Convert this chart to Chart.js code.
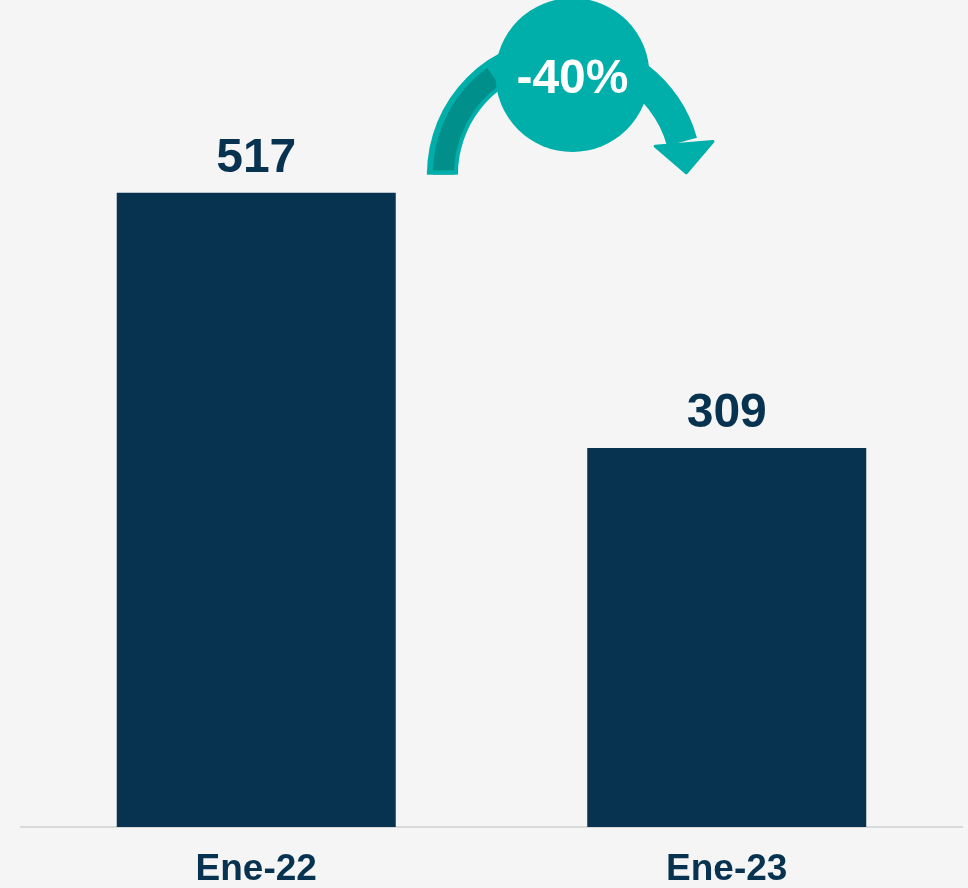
<!DOCTYPE html>
<html>
<head>
    <title>Ene-22 vs Ene-23</title>
    <script src="https://cdn.jsdelivr.net/npm/chart.js"></script>
    <style>
        body { margin: 0; background: #f5f5f5; }
        canvas { display: block; }
    </style>
</head>
<body>
    <canvas id="chart" width="968" height="888"></canvas>
    <script>
        // data
        const categories = ['Ene-22', 'Ene-23'];
        const values = [517, 309];

        const navy = '#083350';
        const teal = '#00afaa';
        const tealDark = '#008f8b';
        const font = "'Liberation Sans', Arial, sans-serif";

        const change = Math.round((values[1] - values[0]) / values[0] * 100);

        // value labels on top of the bars
        const valueLabels = {
            id: 'valueLabels',
            afterDatasetsDraw(chart) {
                const ctx = chart.ctx;
                const meta = chart.getDatasetMeta(0);
                ctx.save();
                ctx.fillStyle = navy;
                ctx.font = 'bold 48px ' + font;
                ctx.textAlign = 'center';
                ctx.textBaseline = 'alphabetic';
                meta.data.forEach((bar, i) => {
                    ctx.fillText(values[i], bar.x, bar.y - 21);
                });
                ctx.restore();
            }
        };

        // curved arrow with the % change
        const changeArrow = {
            id: 'changeArrow',
            afterDatasetsDraw(chart) {
                const ctx = chart.ctx;
                const meta = chart.getDatasetMeta(0);
                const y = chart.scales.y;
                const x0 = meta.data[0].x, x1 = meta.data[1].x;
                const d = x1 - x0;
                const cx = x0 + d * 0.655;
                const cy = y.getPixelForValue(532);
                const rMid = 122, half = 15.5;
                const endA = -0.27;

                ctx.save();
                // shaft
                ctx.beginPath();
                ctx.arc(cx, cy, rMid + half, Math.PI, 2 * Math.PI + endA);
                ctx.arc(cx, cy, rMid - half, 2 * Math.PI + endA, Math.PI, true);
                ctx.closePath();
                ctx.fillStyle = teal;
                ctx.fill();

                // darker inside on the left arm
                ctx.beginPath();
                ctx.arc(cx, cy, rMid + half - 6, Math.PI, Math.PI * 1.3);
                ctx.arc(cx, cy, rMid - half + 4, Math.PI * 1.3, Math.PI, true);
                ctx.closePath();
                ctx.fillStyle = tealDark;
                ctx.fill();
                ctx.fillStyle = teal;
                ctx.fillRect(cx - rMid - half, cy - 4, half * 2, 4);

                // head
                const hA = -0.08;
                const bx = cx + rMid * Math.cos(endA) + 2, by = cy + rMid * Math.sin(endA) + 2;
                const ux = Math.cos(hA), uy = Math.sin(hA);
                const tx = -Math.sin(hA), ty = Math.cos(hA);
                ctx.beginPath();
                ctx.moveTo(bx - ux * 29, by - uy * 29);
                ctx.lineTo(bx + ux * 29, by + uy * 29);
                ctx.lineTo(bx + tx * 29, by + ty * 29);
                ctx.closePath();
                ctx.lineJoin = 'round';
                ctx.strokeStyle = teal;
                ctx.lineWidth = 3;
                ctx.fill();
                ctx.stroke();

                // circle
                const ccx = x0 + d * 0.672;
                const ccy = y.getPixelForValue(613);
                ctx.beginPath();
                ctx.arc(ccx, ccy, 77, 0, Math.PI * 2);
                ctx.fillStyle = teal;
                ctx.fill();

                ctx.fillStyle = '#ffffff';
                ctx.font = 'bold 48px ' + font;
                ctx.textAlign = 'center';
                ctx.textBaseline = 'middle';
                ctx.fillText(change + '%', ccx, ccy + 5);
                ctx.restore();
            }
        };

        new Chart(document.getElementById('chart'), {
            type: 'bar',
            data: {
                labels: categories,
                datasets: [{
                    data: values,
                    backgroundColor: navy,
                    barPercentage: 0.593,
                    categoryPercentage: 1
                }]
            },
            options: {
                responsive: false,
                animation: false,
                layout: { padding: { top: 91, left: 21, right: 6, bottom: -24 } },
                plugins: {
                    legend: { display: false },
                    tooltip: { enabled: false }
                },
                scales: {
                    x: {
                        grid: { display: true, drawOnChartArea: false, drawTicks: false, color: 'rgba(0,0,0,0)' },
                        border: { display: true, color: '#d9d9d9', width: 2 },
                        ticks: {
                            color: navy,
                            padding: 24,
                            font: { family: font, size: 37, weight: 'bold', lineHeight: 1 }
                        }
                    },
                    y: {
                        display: false,
                        min: 0,
                        max: 600
                    }
                }
            },
            plugins: [valueLabels, changeArrow]
        });
    </script>
</body>
</html>
